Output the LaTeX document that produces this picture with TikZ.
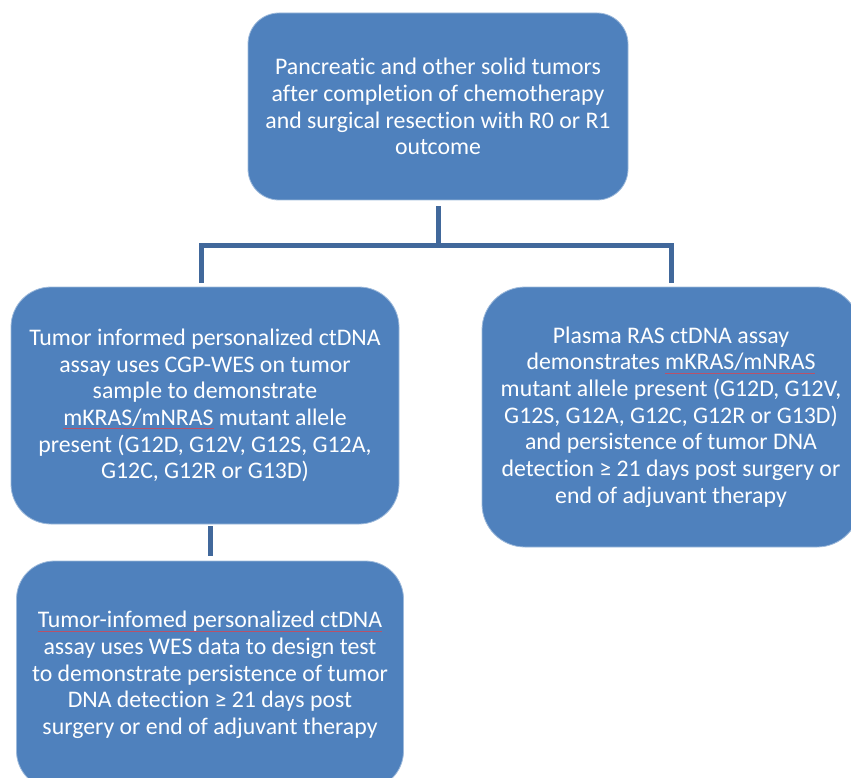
\documentclass[tikz,border=0pt]{standalone}
\usepackage{fontspec}
\setmainfont{Carlito}[Ligatures=NoCommon]
\usepackage{xcolor}
\usepackage{tikz}
\usetikzlibrary{positioning,calc}

\definecolor{boxblue}{HTML}{4F81BD}
\definecolor{linkblue}{HTML}{41689B}
\definecolor{spellred}{HTML}{B8526A}
\newcommand{\spellmark}[1]{\setbox0\hbox{#1}\rlap{\color{spellred}\rule[-3.5pt]{\wd0}{0.5pt}}\box0\relax}

\begin{document}
\begin{tikzpicture}[
    x=1pt, y=-1pt,
    box/.style={rectangle, draw=boxblue!55!white, line width=0.8pt, fill=boxblue, text=white, align=center, inner sep=0pt, font=\fontsize{23.8}{26.7}\selectfont},
    link/.style={draw=linkblue, line width=5pt}
]
    \useasboundingbox (0,0) rectangle (851,778);

    \node [box, minimum width=380pt, minimum height=187pt, rounded corners=31pt] (tumors) at (438,106.5) {Pancreatic and other solid tumors\\after completion of chemotherapy\\and surgical resection with R0 or R1\\outcome};
    \node [box, minimum width=388pt, minimum height=237pt, rounded corners=40pt] (informed) at (205,405.5) {Tumor informed personalized ctDNA\\assay uses CGP-WES on tumor\\sample to demonstrate\\\spellmark{mKRAS/mNRAS} mutant allele\\present (G12D, G12V, G12S, G12A,\\G12C, G12R or G13D)};
    \node [box, minimum width=378pt, minimum height=260pt, rounded corners=43pt] (plasma) at (671,417) {Plasma RAS ctDNA assay\\demonstrates \spellmark{mKRAS/mNRAS}\\mutant allele present (G12D, G12V,\\G12S, G12A, G12C, G12R or G13D)\\and persistence of tumor DNA\\detection ≥ 21 days post surgery or\\end of adjuvant therapy};
    \node [box, minimum width=387pt, minimum height=228pt, rounded corners=38pt] (wesdesign) at (210,675) {\spellmark{Tumor-infomed personalized ctDNA}\\assay uses WES data to design test\\to demonstrate persistence of tumor\\DNA detection ≥ 21 days post\\surgery or end of adjuvant therapy};

    \coordinate (fork) at ($(tumors.south)+(0,45)$);
    \draw [link, shorten <=6pt] (tumors.south) -- (fork);
    \draw [link, shorten >=4pt] (fork) -| ([xshift=-4pt]informed.north);
    \draw [link, shorten >=4pt] (fork) -| (plasma.north);
    \draw [link, shorten <=2pt, shorten >=5pt] (wesdesign.north |- informed.south) -- (wesdesign.north);
\end{tikzpicture}
\end{document}
